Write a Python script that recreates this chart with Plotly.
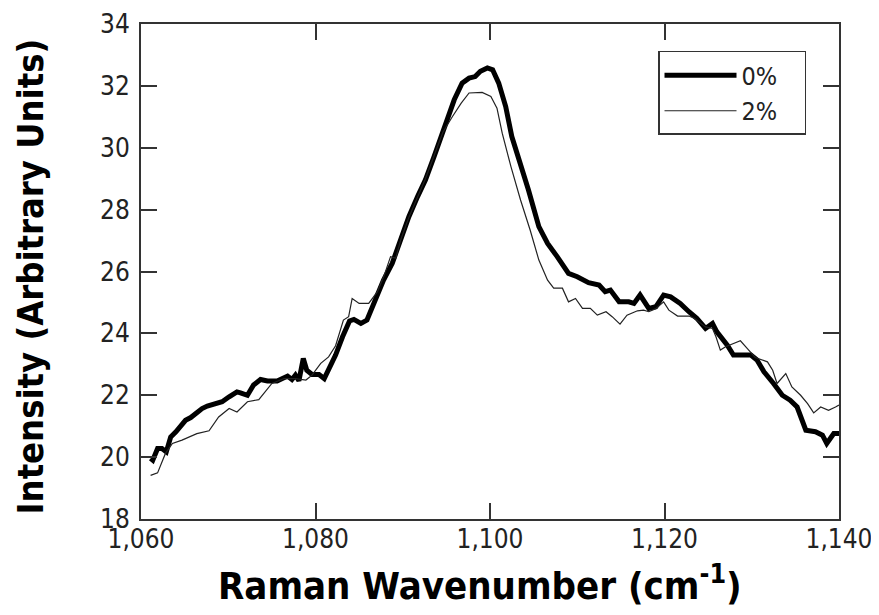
import plotly.graph_objects as go

# 0% sample (thick line)
x_0 = [1061.1, 1061.35, 1061.9, 1062.4, 1062.9, 1063.4, 1064.0, 1064.5, 1065.1, 1065.7,
       1066.2, 1067.0, 1067.6, 1068.5, 1069.3, 1070.1, 1071.0, 1071.4, 1072.2, 1072.9,
       1073.7, 1074.5, 1075.6, 1076.8, 1077.3, 1077.7, 1078.1, 1078.6, 1079.0, 1079.6,
       1080.4, 1081.0, 1082.3, 1083.1, 1083.9, 1084.4, 1085.2, 1085.9, 1086.7, 1087.8,
       1088.8, 1089.7, 1090.7, 1091.7, 1092.6, 1093.6, 1094.9, 1095.9, 1096.8, 1097.6,
       1098.3, 1098.9, 1099.7, 1100.3, 1101.0, 1101.8, 1102.5, 1103.5, 1104.4, 1105.6,
       1106.6, 1107.7, 1109.0, 1110.0, 1111.3, 1112.5, 1113.2, 1113.8, 1114.8, 1115.9,
       1116.5, 1117.2, 1118.2, 1119.0, 1119.9, 1120.7, 1121.8, 1122.8, 1123.7, 1124.7,
       1125.5, 1126.0, 1127.2, 1127.9, 1128.9, 1129.9, 1130.6, 1131.4, 1132.5, 1133.5,
       1134.4, 1135.2, 1136.2, 1137.3, 1138.1, 1138.6, 1139.4, 1140.0]
y_0 = [19.96, 19.90, 20.28, 20.28, 20.17, 20.65, 20.82, 20.98, 21.19, 21.28,
       21.41, 21.57, 21.65, 21.73, 21.79, 21.95, 22.11, 22.08, 22.00, 22.33,
       22.51, 22.46, 22.46, 22.62, 22.51, 22.65, 22.47, 23.19, 22.81, 22.67,
       22.67, 22.54, 23.30, 23.89, 24.40, 24.45, 24.32, 24.43, 24.97, 25.72,
       26.27, 27.02, 27.77, 28.42, 28.96, 29.72, 30.80, 31.55, 32.09, 32.25,
       32.30, 32.47, 32.58, 32.52, 32.09, 31.33, 30.36, 29.50, 28.64, 27.45,
       26.91, 26.48, 25.94, 25.83, 25.64, 25.56, 25.35, 25.40, 25.02, 25.02,
       24.97, 25.24, 24.81, 24.86, 25.24, 25.18, 24.97, 24.70, 24.49, 24.16,
       24.32, 24.05, 23.62, 23.30, 23.30, 23.30, 23.14, 22.76, 22.38, 22.00,
       21.84, 21.62, 20.87, 20.82, 20.71, 20.44, 20.76, 20.76]

# 2% sample (thin line)
x_2 = [1061.1, 1061.9, 1062.8, 1063.6, 1064.7, 1066.4, 1067.8, 1068.9, 1070.1, 1071.0,
       1072.2, 1073.5, 1075.0, 1076.4, 1077.7, 1078.9, 1079.6, 1080.6, 1081.5, 1082.3,
       1083.2, 1083.8, 1084.2, 1085.0, 1086.1, 1087.1, 1087.9, 1088.6, 1089.2, 1089.8,
       1090.7, 1091.7, 1092.6, 1093.6, 1094.6, 1095.7, 1096.7, 1097.6, 1098.5, 1099.1,
       1100.1, 1100.8, 1101.4, 1102.4, 1103.5, 1104.6, 1105.6, 1106.6, 1107.3, 1108.3,
       1109.0, 1109.8, 1110.6, 1111.5, 1112.3, 1113.3, 1114.0, 1114.9, 1115.7, 1116.9,
       1117.6, 1118.2, 1119.0, 1119.9, 1120.5, 1121.5, 1122.8, 1123.4, 1124.7, 1125.5,
       1125.9, 1126.4, 1127.0, 1127.9, 1128.7, 1129.5, 1130.4, 1131.8, 1132.4, 1132.9,
       1133.9, 1134.6, 1135.6, 1136.4, 1137.1, 1137.9, 1138.8, 1139.6, 1140.0]
y_2 = [19.41, 19.49, 20.12, 20.44, 20.55, 20.76, 20.85, 21.30, 21.57, 21.46,
       21.79, 21.86, 22.38, 22.54, 22.54, 22.49, 22.65, 23.03, 23.24, 23.60,
       24.43, 24.54, 25.13, 24.97, 24.97, 25.35, 25.90, 26.48, 26.43, 27.05,
       27.75, 28.42, 29.00, 29.75, 30.50, 31.01, 31.44, 31.77, 31.79, 31.79,
       31.66, 31.28, 30.47, 29.39, 28.31, 27.34, 26.37, 25.72, 25.46, 25.46,
       25.02, 25.13, 24.81, 24.81, 24.59, 24.70, 24.54, 24.30, 24.59, 24.73,
       24.75, 24.70, 24.80, 25.02, 24.75, 24.56, 24.56, 24.49, 24.21, 24.16,
       23.89, 23.46, 23.57, 23.68, 23.76, 23.51, 23.22, 23.08, 22.81, 22.38,
       22.70, 22.27, 22.00, 21.73, 21.43, 21.62, 21.51, 21.62, 21.68]

series_names = ["0%", "2%"]

x_ticks = [1060, 1080, 1100, 1120, 1140]
x_tick_labels = ["1,060", "1,080", "1,100", "1,120", "1,140"]
y_ticks = [18, 20, 22, 24, 26, 28, 30, 32, 34]

FONT = "DejaVu Sans Condensed, Liberation Sans Narrow, DejaVu Sans, sans-serif"
PAD = "&nbsp;&nbsp;&nbsp;"  # right padding inside the legend box

fig = go.Figure()
fig.add_trace(go.Scatter(x=x_0, y=y_0, mode="lines", name=series_names[0] + PAD,
                         line=dict(color="black", width=5)))
fig.add_trace(go.Scatter(x=x_2, y=y_2, mode="lines", name=series_names[1] + PAD,
                         line=dict(color="#222222", width=1.2)))

axis_common = dict(showline=True, linecolor="#333333", linewidth=2, mirror="ticks",
                   ticks="inside", ticklen=16, tickwidth=1.5, tickcolor="#333333",
                   showgrid=False, zeroline=False,
                   tickfont=dict(family=FONT, size=26, color="#222222"))

fig.update_xaxes(range=[1060, 1140], tickvals=x_ticks, ticktext=x_tick_labels,
                 ticklabelstandoff=-4, **axis_common)
fig.update_yaxes(range=[18, 34], tickvals=y_ticks, ticklabelstandoff=4, **axis_common)

# the page places the figure 8px from the top-left corner
fig.update_layout(
    width=871, height=607,
    margin=dict(l=133, r=40, t=16, b=96, autoexpand=False),
    paper_bgcolor="white", plot_bgcolor="white",
    showlegend=True,
    legend=dict(x=0.7407, y=0.9455, xanchor="left", yanchor="top",
                bordercolor="#333333", borderwidth=1.5, bgcolor="white",
                font=dict(family=FONT, size=25, color="#222222"),
                itemwidth=72, tracegroupgap=0),
    annotations=[
        dict(text="Raman Wavenumber (cm<sup>-1</sup>)", xref="paper", yref="paper",
             x=0.486, y=-0.13, xanchor="center", yanchor="middle", showarrow=False,
             font=dict(family=FONT, size=38, color="black", weight="bold")),
        dict(text="Intensity (Arbitrary Units)", xref="paper", yref="paper",
             x=-0.159, y=0.49, xanchor="center", yanchor="middle", showarrow=False,
             textangle=-90,
             font=dict(family=FONT, size=36, color="black", weight="bold")),
    ],
)

fig.write_html("out.html")
